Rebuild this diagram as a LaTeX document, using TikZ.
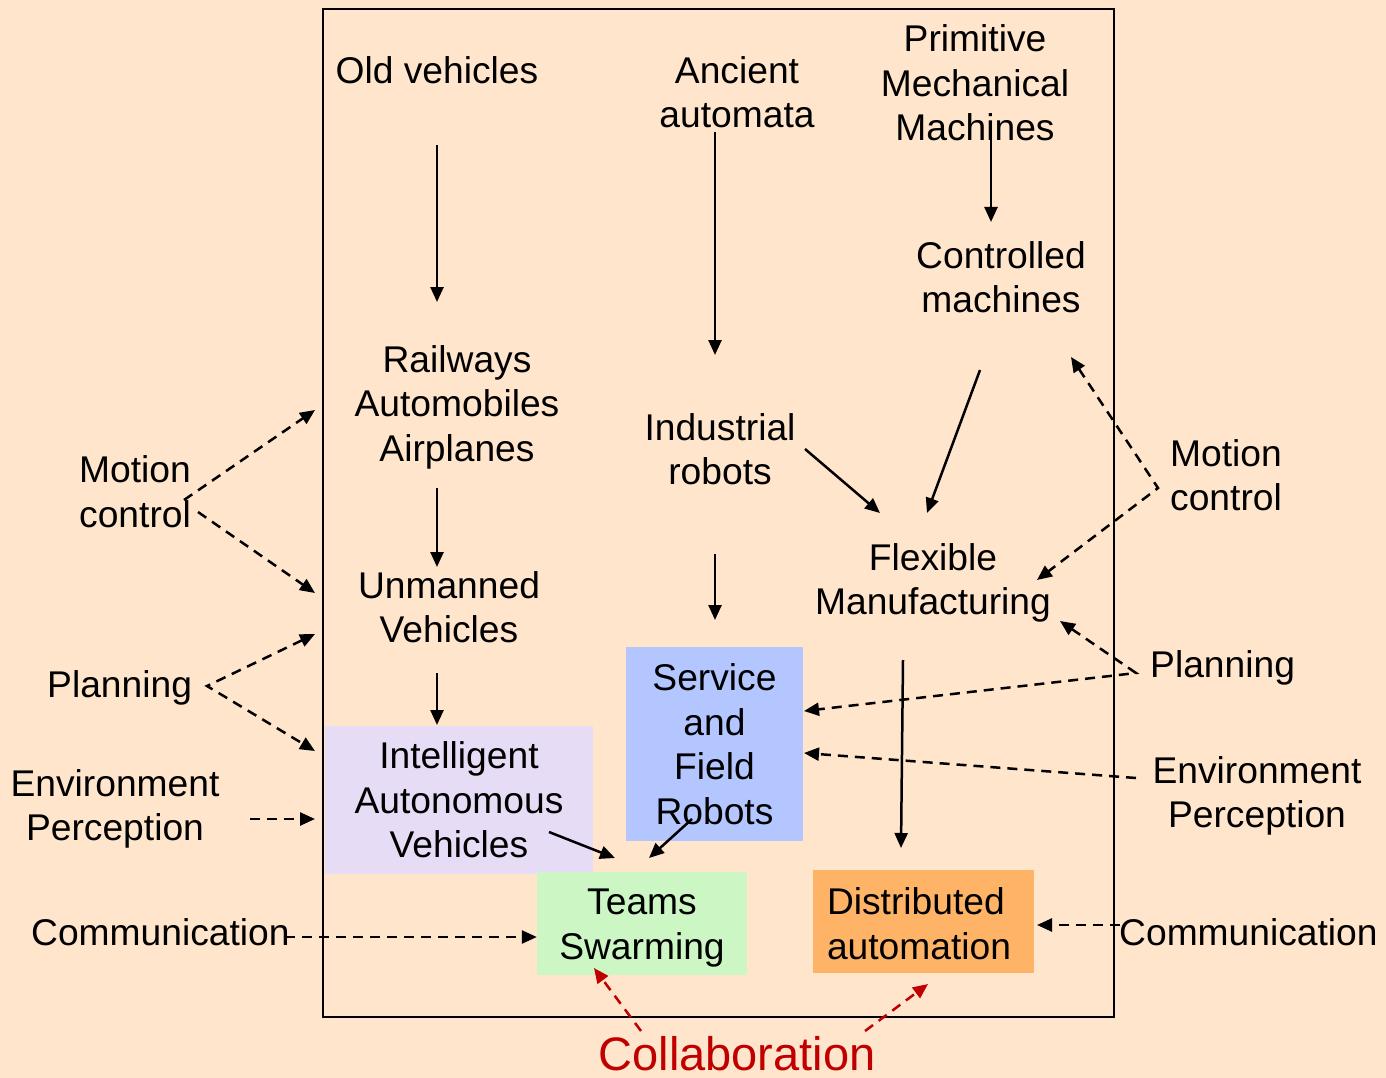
\documentclass[tikz,border=0pt]{standalone}
\usepackage{fontspec}
\setmainfont{Liberation Sans}
\usetikzlibrary{arrows.meta}
\definecolor{bg}{HTML}{FFE5CC}
\definecolor{lav}{HTML}{E6DCF5}
\definecolor{blu}{HTML}{B3C6FF}
\definecolor{grn}{HTML}{CCF7C4}
\definecolor{org}{HTML}{FFB366}
\definecolor{dred}{HTML}{C00000}
\begin{document}
\begin{tikzpicture}[x=1pt,y=-1pt,
  lbl/.style={inner sep=0pt, align=center, font=\fontsize{37.2}{44.5}\selectfont},
  tip/.tip={Triangle[length=15pt,width=13pt]},
  sarrow/.style={line width=2.5pt, -tip},
  darrow/.style={line width=2.5pt, dash pattern=on 10pt off 7pt, -tip},
  ddarrow/.style={line width=2.5pt, dash pattern=on 10pt off 7pt, tip-tip},
  rarrow/.style={darrow, draw=dred}]
\useasboundingbox (0,0) rectangle (1386,1078);
\fill[bg] (0,0) rectangle (1386,1078);
\draw[line width=2pt] (323,9) rectangle (1114,1017);

% boxes
\node[lbl, fill=lav, minimum width=268pt, minimum height=148pt] (iav) at (459,800) {Intelligent\\Autonomous\\Vehicles};
\node[lbl, fill=blu, minimum width=177pt, minimum height=194pt] (sfr) at (714.5,744) {Service\\and\\Field\\Robots};
\node[lbl, fill=grn, minimum width=210pt, minimum height=103pt] (tsw) at (642,923.5) {\rule{0pt}{35pt}Teams\\Swarming};
\node[lbl, fill=org, align=left, text width=193pt, inner xsep=14pt, minimum height=103pt] (dau) at (923.5,921.5) {\rule{0pt}{31pt}Distributed\\automation};

% plain labels
\node[lbl] (old) at (437,70) {Old vehicles};
\node[lbl] (anc) at (737,92) {Ancient\\automata};
\node[lbl] (pmm) at (975,83) {Primitive\\Mechanical\\Machines};
\node[lbl] (ctm) at (1001,277) {Controlled\\machines};
\node[lbl] (raa) at (457,407) {Railways\\Automobiles\\Airplanes};
\node[lbl] (ind) at (720,449) {Industrial\\robots};
\node[lbl] (unv) at (449,607) {Unmanned\\Vehicles};
\node[lbl] (flm) at (933,583) {Flexible\\Manufacturing};

\node[lbl, anchor=west, align=left] (mcL) at (79,491.5) {Motion\\control};
\node[lbl, anchor=west] (plL) at (47,688) {Planning};
\node[lbl] (epL) at (115,809) {Environment\\Perception};
\node[lbl, anchor=west] (coL) at (31,932) {Communication};
\node[lbl, anchor=west, align=left] (mcR) at (1170,475) {Motion\\control};
\node[lbl, anchor=west] (plR) at (1150,668) {Planning};
\node[lbl] (epR) at (1257,796) {Environment\\Perception};
\node[lbl, anchor=west] (coR) at (1119,932) {Communication};
\node[lbl, text=dred, font=\fontsize{47}{56}\selectfont] (col) at (737,1054) {Collaboration};

% connector end points
\coordinate (a1s) at (437,145); \coordinate (a1e) at (437,302);
\coordinate (a2s) at (437,488); \coordinate (a2e) at (437,567);
\coordinate (a3s) at (437,673); \coordinate (a3e) at (437,725);
\coordinate (b1s) at (715,132); \coordinate (b1e) at (715,355);
\coordinate (b2s) at (715,554); \coordinate (b2e) at (715,620);
\coordinate (c1s) at (991,140); \coordinate (c1e) at (991,222);
\coordinate (c2s) at (980,370); \coordinate (c2e) at (927,513);
\coordinate (d1s) at (805,449); \coordinate (d1e) at (880,513);
\coordinate (e1s) at (903,660); \coordinate (e1e) at (901,848);
\coordinate (t1s) at (549,832); \coordinate (t1e) at (615,858);
\coordinate (t2s) at (692,819); \coordinate (t2e) at (649,858);

% solid arrows
\draw[sarrow] (a1s) -- (a1e);
\draw[sarrow] (a2s) -- (a2e);
\draw[sarrow] (a3s) -- (a3e);
\draw[sarrow] (b1s) -- (b1e);
\draw[sarrow] (b2s) -- (b2e);
\draw[sarrow] (c1s) -- (c1e);
\draw[sarrow] (c2s) -- (c2e);
\draw[sarrow] (d1s) -- (d1e);
\draw[sarrow] (e1s) -- (e1e);
\draw[sarrow] (t1s) -- (t1e);
\draw[sarrow] (t2s) -- (t2e);

% dashed arrows, left
\coordinate (mcLv1) at (184,500); \coordinate (mcLv2) at (198,512);
\coordinate (mcLt1) at (315,410); \coordinate (mcLt2) at (315,593);
\draw[darrow] (mcLv1) -- (mcLt1);
\draw[darrow] (mcLv2) -- (mcLt2);
\coordinate (plLv) at (207,686);
\coordinate (plLt1) at (315,634); \coordinate (plLt2) at (315,751);
\draw[ddarrow] (plLt1) -- (plLv) -- (plLt2);
\coordinate (epLs) at (250,819); \coordinate (epLt) at (315,819);
\draw[darrow] (epLs) -- (epLt);
\coordinate (coLs) at (285,937);
\draw[darrow] (coLs) -- (tsw.west |- coLs);

% dashed arrows, right
\coordinate (mcRv) at (1158,488);
\coordinate (mcRt1) at (1071,357); \coordinate (mcRt2) at (1037,580);
\draw[ddarrow] (mcRt1) -- (mcRv) -- (mcRt2);
\coordinate (plRv) at (1136,673);
\coordinate (plRt1) at (1060,621); \coordinate (plRt2) at (804,711);
\draw[ddarrow] (plRt1) -- (plRv) -- (plRt2);
\coordinate (epRs) at (1136,778); \coordinate (epRt) at (804,753);
\draw[darrow] (epRs) -- (epRt);
\coordinate (coRs) at (1120,925); \coordinate (coRt) at (1037,925);
\draw[darrow] (coRs) -- (coRt);

% collaboration
\coordinate (clS1) at (641,1031); \coordinate (clT1) at (594,968);
\coordinate (clS2) at (865,1031); \coordinate (clT2) at (928,984);
\draw[rarrow] (clS1) -- (clT1);
\draw[rarrow] (clS2) -- (clT2);
\end{tikzpicture}
\end{document}
